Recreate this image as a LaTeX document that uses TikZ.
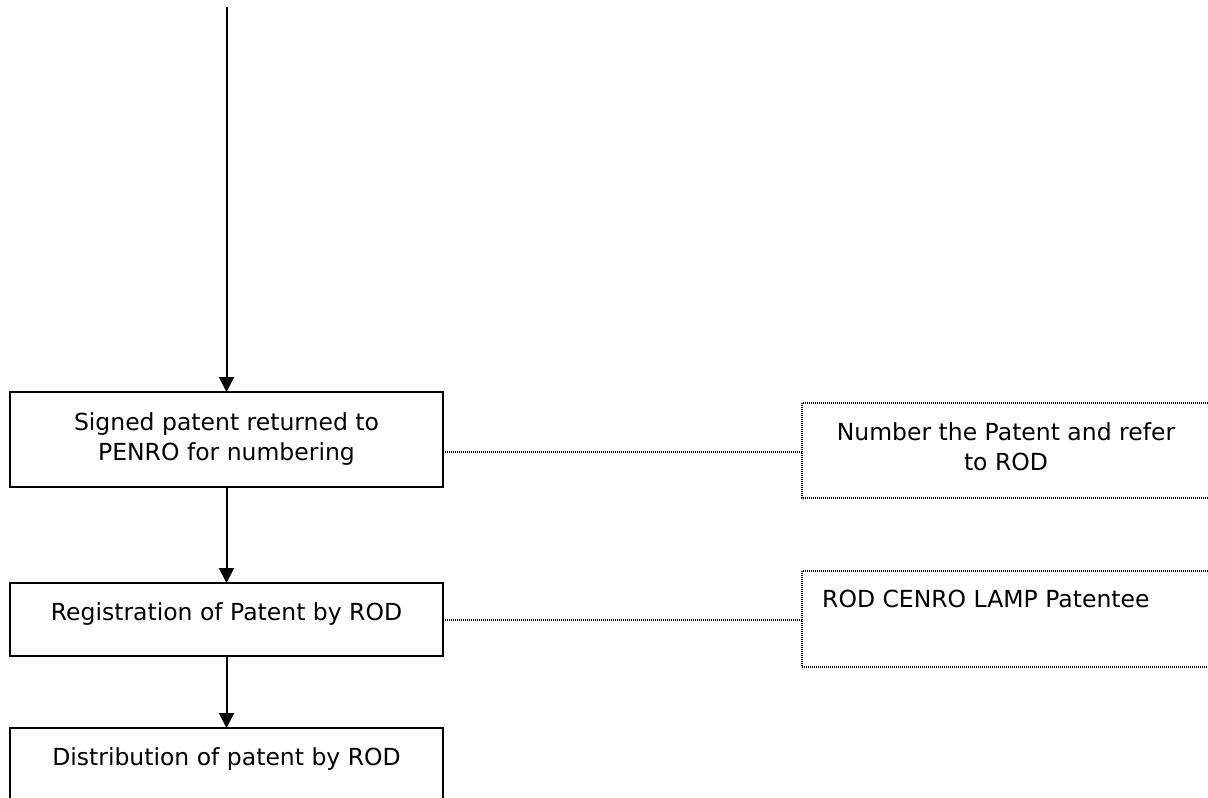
\documentclass[tikz,border=0pt]{standalone}
\usepackage{fontspec}
\setmainfont{DejaVu Sans}
\usetikzlibrary{arrows.meta}
\begin{document}
\begin{tikzpicture}[x=1pt,y=-1pt,
  every node/.style={font=\fontsize{23.5}{30}\selectfont, text=black, inner sep=0pt},
  stepbox/.style={draw, line width=1.9pt},
  notebox/.style={draw, line width=1.1pt, dash pattern=on 1pt off 1pt},
  flow/.style={line width=2pt, -{Triangle[width=15pt,length=15pt]}},
  link/.style={line width=1.1pt, dash pattern=on 1pt off 1pt}]
  \useasboundingbox (0,0) rectangle (1208,798);
  \clip (0,0) rectangle (1208,798);

  % process boxes
  \draw[stepbox] (10,392) rectangle (443,487);
  \draw[stepbox] (10,583) rectangle (443,656);
  \draw[stepbox] (10,728) rectangle (443,820);
  \node[align=center] (s1) at (226.5,439) {Signed patent returned to\\PENRO for numbering};
  \node (s2) at (226.5,614) {Registration of Patent by ROD};
  \node (s3) at (226.5,759) {Distribution of patent by ROD};
  \coordinate (b1t) at (226.5,392);
  \coordinate (b1b) at (226.5,487);
  \coordinate (b2t) at (226.5,583);
  \coordinate (b2b) at (226.5,656);
  \coordinate (b3t) at (226.5,728);
  \coordinate (start) at (226.5,7);

  % notes
  \draw[notebox] (1230,403) -- (802,403) -- (802,498) -- (1230,498);
  \draw[notebox] (1230,571) -- (802,571) -- (802,667) -- (1230,667);
  \node[align=center] (n1) at (1006,447) {Number the Patent and refer\\to ROD};
  \node[anchor=west] (n2) at (822,599) {ROD CENRO LAMP Patentee};

  % connectors
  \draw[flow] (start) -- (b1t);
  \draw[flow] (b1b) -- (b2t);
  \draw[flow] (b2b) -- (b3t);
  \draw[link] (443,452) -- (802,452);
  \draw[link] (443,620) -- (802,620);
\end{tikzpicture}
\end{document}
